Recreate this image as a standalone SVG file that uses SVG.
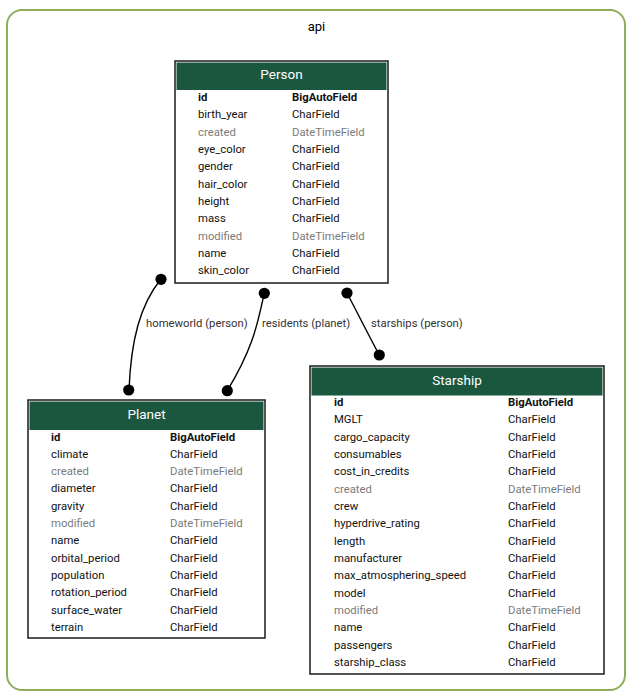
<svg xmlns="http://www.w3.org/2000/svg" width="634" height="698" viewBox="0 0 634 698">
<style>
text{font-family:Roboto,"Liberation Sans",sans-serif;}
.box{fill:#ffffff;stroke:#1a1a1a;stroke-width:1.5;}
.hdr{fill:#1b563f;}
.ttl{fill:#ffffff;font-size:13.5px;text-anchor:middle;}
.f{font-size:11.3px;fill:#111111;}
.b{font-weight:bold;}
.g{fill:#7b7b7b;}
.edge{fill:none;stroke:#000000;stroke-width:1.4;}
.dot{fill:#000000;}
.lbl{font-size:11.3px;fill:#333333;}
</style>
<rect width="634" height="698" fill="#ffffff"/>
<g id="cluster_api">
<rect x="7" y="10" width="618" height="680" rx="15" ry="15" fill="none" stroke="#8fae5c" stroke-width="2"/>
<text x="316.5" y="30.5" font-size="13" text-anchor="middle" fill="#000000">api</text>
</g>
<g id="connectors">
<path class="edge" d="M161,279 C140,305 131,340 129,390"/>
<circle class="dot" cx="161" cy="279.3" r="5.6"/>
<circle class="dot" cx="128.7" cy="390" r="5.6"/>
<text class="lbl" x="146" y="327">homeworld (person)</text>
<path class="edge" d="M264.3,293.3 C258,320 255,345 227.3,390.7"/>
<circle class="dot" cx="264.3" cy="293.3" r="5.6"/>
<circle class="dot" cx="227.3" cy="390.7" r="5.6"/>
<text class="lbl" x="262" y="327">residents (planet)</text>
<path class="edge" d="M347,293 C358,314 368,334 379.3,355"/>
<circle class="dot" cx="347" cy="293" r="5.6"/>
<circle class="dot" cx="379.3" cy="355" r="5.6"/>
<text class="lbl" x="371" y="327">starships (person)</text>
</g>
<g id="Person">
<rect class="box" x="175" y="61" width="213" height="222"/>
<rect class="hdr" x="176.5" y="62.5" width="210" height="27.5"/>
<text class="ttl" x="281.5" y="79">Person</text>
<text class="f b" x="198" y="101">id</text><text class="f b" x="292" y="101">BigAutoField</text>
<text class="f" x="198" y="118.3">birth_year</text><text class="f" x="292" y="118.3">CharField</text>
<text class="f g" x="198" y="135.7">created</text><text class="f g" x="292" y="135.7">DateTimeField</text>
<text class="f" x="198" y="153">eye_color</text><text class="f" x="292" y="153">CharField</text>
<text class="f" x="198" y="170.3">gender</text><text class="f" x="292" y="170.3">CharField</text>
<text class="f" x="198" y="187.7">hair_color</text><text class="f" x="292" y="187.7">CharField</text>
<text class="f" x="198" y="205">height</text><text class="f" x="292" y="205">CharField</text>
<text class="f" x="198" y="222.3">mass</text><text class="f" x="292" y="222.3">CharField</text>
<text class="f g" x="198" y="239.7">modified</text><text class="f g" x="292" y="239.7">DateTimeField</text>
<text class="f" x="198" y="257">name</text><text class="f" x="292" y="257">CharField</text>
<text class="f" x="198" y="274.3">skin_color</text><text class="f" x="292" y="274.3">CharField</text>
</g>
<g id="Planet">
<rect class="box" x="28" y="400" width="237" height="238"/>
<rect class="hdr" x="29.5" y="401.5" width="234" height="28.5"/>
<text class="ttl" x="146.5" y="419">Planet</text>
<text class="f b" x="51" y="440.5">id</text><text class="f b" x="170" y="440.5">BigAutoField</text>
<text class="f" x="51" y="457.8">climate</text><text class="f" x="170" y="457.8">CharField</text>
<text class="f g" x="51" y="475.1">created</text><text class="f g" x="170" y="475.1">DateTimeField</text>
<text class="f" x="51" y="492.4">diameter</text><text class="f" x="170" y="492.4">CharField</text>
<text class="f" x="51" y="509.7">gravity</text><text class="f" x="170" y="509.7">CharField</text>
<text class="f g" x="51" y="527">modified</text><text class="f g" x="170" y="527">DateTimeField</text>
<text class="f" x="51" y="544.3">name</text><text class="f" x="170" y="544.3">CharField</text>
<text class="f" x="51" y="561.6">orbital_period</text><text class="f" x="170" y="561.6">CharField</text>
<text class="f" x="51" y="578.9">population</text><text class="f" x="170" y="578.9">CharField</text>
<text class="f" x="51" y="596.2">rotation_period</text><text class="f" x="170" y="596.2">CharField</text>
<text class="f" x="51" y="613.5">surface_water</text><text class="f" x="170" y="613.5">CharField</text>
<text class="f" x="51" y="630.8">terrain</text><text class="f" x="170" y="630.8">CharField</text>
</g>
<g id="Starship">
<rect class="box" x="310" y="366" width="294" height="308"/>
<rect class="hdr" x="311.5" y="367.5" width="291" height="28"/>
<text class="ttl" x="457" y="384.5">Starship</text>
<text class="f b" x="334" y="406">id</text><text class="f b" x="508" y="406">BigAutoField</text>
<text class="f" x="334" y="423.3">MGLT</text><text class="f" x="508" y="423.3">CharField</text>
<text class="f" x="334" y="440.7">cargo_capacity</text><text class="f" x="508" y="440.7">CharField</text>
<text class="f" x="334" y="458">consumables</text><text class="f" x="508" y="458">CharField</text>
<text class="f" x="334" y="475.3">cost_in_credits</text><text class="f" x="508" y="475.3">CharField</text>
<text class="f g" x="334" y="492.7">created</text><text class="f g" x="508" y="492.7">DateTimeField</text>
<text class="f" x="334" y="510">crew</text><text class="f" x="508" y="510">CharField</text>
<text class="f" x="334" y="527.3">hyperdrive_rating</text><text class="f" x="508" y="527.3">CharField</text>
<text class="f" x="334" y="544.7">length</text><text class="f" x="508" y="544.7">CharField</text>
<text class="f" x="334" y="562">manufacturer</text><text class="f" x="508" y="562">CharField</text>
<text class="f" x="334" y="579.3">max_atmosphering_speed</text><text class="f" x="508" y="579.3">CharField</text>
<text class="f" x="334" y="596.7">model</text><text class="f" x="508" y="596.7">CharField</text>
<text class="f g" x="334" y="614">modified</text><text class="f g" x="508" y="614">DateTimeField</text>
<text class="f" x="334" y="631.3">name</text><text class="f" x="508" y="631.3">CharField</text>
<text class="f" x="334" y="648.7">passengers</text><text class="f" x="508" y="648.7">CharField</text>
<text class="f" x="334" y="666">starship_class</text><text class="f" x="508" y="666">CharField</text>
</g>
</svg>
